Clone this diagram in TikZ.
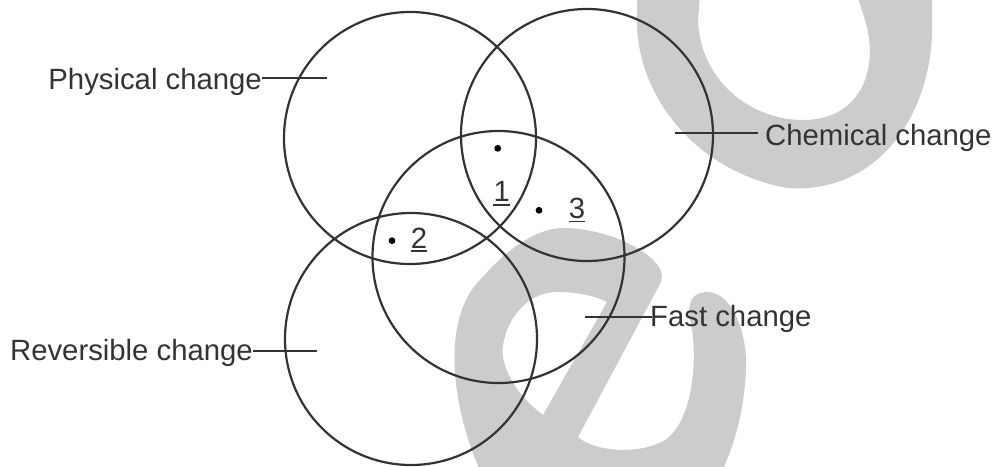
\documentclass[tikz,border=0pt]{standalone}
\usepackage{fontspec}
\setmainfont{Liberation Sans}
\definecolor{ink}{HTML}{333333}
\definecolor{wmark}{HTML}{CCCCCC}
\tikzset{
  ring/.style={circle,draw=ink,line width=2.2pt,minimum size=252pt,inner sep=0pt},
  lbl/.style={inner sep=0pt,text=ink,font=\fontsize{29.3}{35}\selectfont},
  num/.style={inner sep=0pt,text=ink,font=\fontsize{29.3}{35}\selectfont},
  leader/.style={draw=ink,line width=2pt},
  uline/.style={draw=ink,line width=1.8pt},
  pt/.style={circle,fill=black,inner sep=0pt,minimum size=6.8pt}
}
\begin{document}
\begin{tikzpicture}[x=1pt,y=-1pt]
\useasboundingbox (0,0) rectangle (995,466);
% watermark
\begin{scope}
\clip (0,0) rectangle (995,466);
\fill[wmark,even odd rule]
  (637,-5) -- (637,20) .. controls (636,90) and (690,170) .. (787,188)
  .. controls (880,195) and (935,110) .. (932,20) -- (932,-5) -- cycle
  (700,-5) -- (698,20) .. controls (700,80) and (750,120) .. (803,120)
  .. controls (860,120) and (880,70) .. (865,20) -- (857,-5) -- cycle;
\fill[wmark,even odd rule]
  (482,475) .. controls (452,410) and (440,320) .. (480,280)
  .. controls (510,245) and (540,228) .. (563,228)
  .. controls (600,228) and (640,245) .. (655,262)
  .. controls (663,270) and (663,278) .. (660,284)
  -- (578,437) .. controls (595,452) and (640,455) .. (665,440)
  .. controls (695,420) and (698,350) .. (690,320)
  .. controls (686,300) and (695,292) .. (707,292)
  .. controls (735,292) and (748,340) .. (746,370)
  .. controls (744,410) and (735,445) .. (720,475) -- cycle
  (557,292) .. controls (580,292) and (598,297) .. (607,302)
  -- (543,415) .. controls (510,390) and (500,360) .. (503,345)
  .. controls (508,315) and (530,292) .. (557,292) -- cycle;
\end{scope}
% circles
\node[ring] (phys) at (410,138) {};
\node[ring] (chem) at (587,135) {};
\node[ring] (fast) at (498.5,257) {};
\node[ring] (rev) at (411,339) {};
% labels
\node[lbl,anchor=base east] (plbl) at (262,89) {Physical change};
\node[lbl,anchor=base east] (rlbl) at (253,360) {Reversible change};
\node[lbl,anchor=base west] (clbl) at (765,145) {Chemical change};
\node[lbl,anchor=base west] (flbl) at (650,326) {Fast change};
\coordinate (pend) at (327,78);
\coordinate (rend) at (317,351);
\coordinate (cend) at (675,133);
\coordinate (cstart) at (758,133);
\coordinate (fend) at (585,317);
\coordinate (fstart) at (652,317);
\draw[leader] (plbl.east |- pend) -- (pend);
\draw[leader] (rlbl.east |- rend) -- (rend);
\draw[leader] (cstart) -- (cend);
\draw[leader] (fstart) -- (fend);
% points
\node[pt] (d1) at (497.7,148.3) {};
\node[pt] (d3) at (539,210.3) {};
\node[pt] (d2) at (392,240.7) {};
\node[num,anchor=base] (n1) at (501.7,201.7) {1};
\node[num,anchor=base] (n3) at (577,218.5) {3};
\node[num,anchor=base] (n2) at (419,248.3) {2};
\draw[uline] ([yshift=-3pt]n1.base west) -- ([yshift=-3pt]n1.base east);
\draw[uline] ([yshift=-3pt]n3.base west) -- ([yshift=-3pt]n3.base east);
\draw[uline] ([yshift=-3pt]n2.base west) -- ([yshift=-3pt]n2.base east);
\end{tikzpicture}
\end{document}
